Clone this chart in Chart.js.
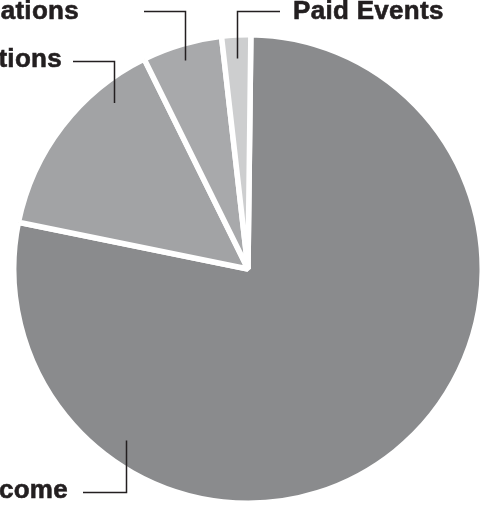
<!DOCTYPE html>
<html>
<head>
<meta charset="utf-8">
<script src="https://cdn.jsdelivr.net/npm/chart.js@4/dist/chart.umd.min.js"></script>
<style>
    html, body { margin: 0; padding: 0; background: #ffffff; }
    #wrap { width: 487px; height: 506px; }
</style>
</head>
<body>
<div id="wrap"><canvas id="pieChart" width="487" height="506"></canvas></div>
<script>
// Revenue shares, clockwise from 12 o'clock
const labels = ['Earned Income', 'Contributions', 'Foundations', 'Paid Events'];
const shares = [78, 14.5, 5.5, 2];
const sliceColors = ['#8a8b8d', '#a2a3a5', '#a8a9ab', '#cdcecf'];

// Where each callout sits (leader line + text)
const callouts = [
    { frac: 0.765, depth: 0.9,  lineY: 492, lineEnd: 83,  textX: 68,  textY: 498, align: 'right' },
    { frac: 0.76,  depth: 0.91, lineY: 61,  lineEnd: 73,  textX: 62,  textY: 67,  align: 'right' },
    { frac: 0.48,  depth: 0.93, lineY: 11,  lineEnd: 144, textX: 79,  textY: 19,  align: 'right' },
    { frac: 0.5,   depth: 0.9,  lineY: 11,  lineEnd: 280, textX: 293, textY: 19,  align: 'left' }
];

const calloutPlugin = {
    id: 'callouts',
    afterDraw(chart) {
        const ctx = chart.ctx;
        const arcs = chart.getDatasetMeta(0).data;
        ctx.save();
        arcs.forEach((arc, i) => {
            const c = callouts[i];
            const p = arc.getProps(['x', 'y', 'startAngle', 'endAngle', 'outerRadius'], true);
            const a = p.startAngle + c.frac * (p.endAngle - p.startAngle);
            const ax = p.x + Math.cos(a) * p.outerRadius * c.depth;
            const ay = p.y + Math.sin(a) * p.outerRadius * c.depth;

            ctx.strokeStyle = '#231f20';
            ctx.lineWidth = 1.5;
            ctx.beginPath();
            ctx.moveTo(Math.round(ax) + 0.5, ay);
            ctx.lineTo(Math.round(ax) + 0.5, c.lineY + 0.5);
            ctx.lineTo(c.lineEnd, c.lineY + 0.5);
            ctx.stroke();

            // bold text, slightly thickened to match the heavy print face
            ctx.fillStyle = '#231f20';
            ctx.font = 'bold 26px "Liberation Sans", Arial, sans-serif';
            ctx.letterSpacing = '0.3px';
            ctx.textAlign = c.align;
            ctx.textBaseline = 'alphabetic';
            ctx.fillText(labels[i], c.textX, c.textY);
            ctx.lineWidth = 0.6;
            ctx.strokeText(labels[i], c.textX, c.textY);
        });
        ctx.restore();
    }
};

const ctx = document.getElementById('pieChart').getContext('2d');
new Chart(ctx, {
    type: 'pie',
    data: {
        labels: labels,
        datasets: [{
            data: shares,
            backgroundColor: sliceColors,
            borderColor: '#ffffff',
            borderWidth: 5.5
        }]
    },
    options: {
        responsive: false,
        animation: false,
        rotation: 0.7,
        layout: {
            padding: { left: 11, right: 2, top: 32, bottom: 0 }
        },
        plugins: {
            legend: { display: false },
            tooltip: { enabled: false }
        }
    },
    plugins: [calloutPlugin]
});
</script>
</body>
</html>
